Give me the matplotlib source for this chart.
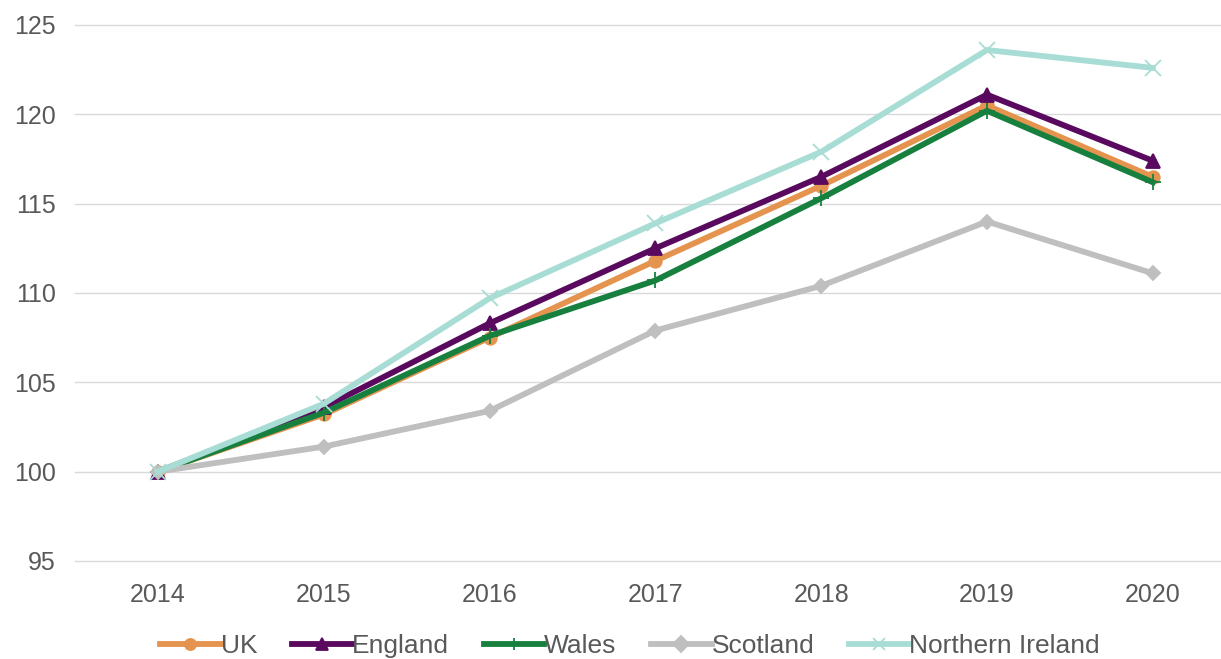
import matplotlib
matplotlib.use("Agg")
import matplotlib.pyplot as plt

years = ["2014", "2015", "2016", "2017", "2018", "2019", "2020"]
uk = [100, 103.2, 107.5, 111.8, 116.0, 120.5, 116.5]
england = [100, 103.6, 108.3, 112.5, 116.5, 121.1, 117.4]
wales = [100, 103.3, 107.6, 110.7, 115.3, 120.2, 116.2]
scotland = [100, 101.4, 103.4, 107.9, 110.4, 114.0, 111.1]
northern_ireland = [100, 103.8, 109.7, 113.9, 117.9, 123.6, 122.6]

series = [
    ("UK", uk, "#E5944F", "o", 9),
    ("England", england, "#5A0A5E", "^", 10),
    ("Wales", wales, "#17803F", "+", 12),
    ("Scotland", scotland, "#BFBFBF", "D", 7),
    ("Northern Ireland", northern_ireland, "#A8DDD5", "x", 11),
]

plt.rcParams["font.family"] = ["Liberation Sans", "DejaVu Sans"]
fig = plt.figure(figsize=(12.21, 6.59), dpi=100)
ax = fig.add_axes([75 / 1221, (659 - 561) / 659, (1221 - 75) / 1221, (561 - 25) / 659])

x = list(range(len(years)))
for name, vals, col, mk, ms in series:
    ax.plot(x, vals, color=col, lw=4.2, marker=mk, markersize=ms,
            markeredgewidth=1.3, markeredgecolor=col,
            label=name, solid_joinstyle="miter")

ax.set_ylim(95, 125)
ax.set_yticks([95, 100, 105, 110, 115, 120, 125])
ax.set_xlim(-0.5, (1221 - 158) / 165.8)
ax.set_xticks(x)
ax.set_xticklabels(years)
ax.grid(axis="y", color="#D9D9D9", lw=1)
for gl in ax.get_ygridlines():
    gl.set_clip_on(False)
ax.set_axisbelow(True)
for s in ax.spines.values():
    s.set_visible(False)
ax.tick_params(length=0, labelsize=18, colors="#595959")
ax.tick_params(axis="x", pad=16)
ax.tick_params(axis="y", pad=14)

leg = fig.legend(loc="center", bbox_to_anchor=(630 / 1221, 1 - 646 / 659), ncol=5,
                 frameon=False, fontsize=19, handlelength=2.3, handletextpad=0.0,
                 columnspacing=1.3, labelcolor="#595959", borderpad=0)
for h in leg.legend_handles:
    h.set_markersize(8)
fig.savefig("out.png", dpi=100)
